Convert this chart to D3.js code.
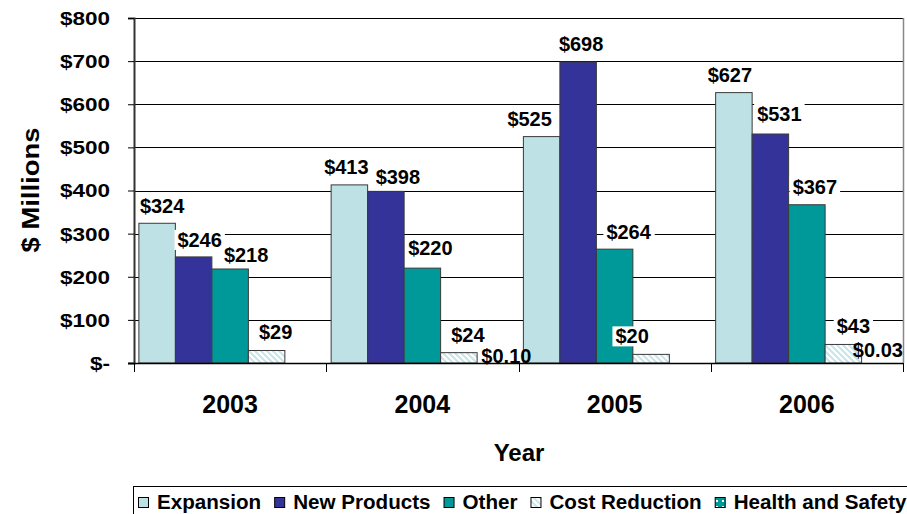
<html>
<script src='https://d3js.org/d3.v7.min.js'></script>
<style>
body { margin: 0; background: #fff; }
text { font-family: "Liberation Sans", Arial, sans-serif; font-weight: bold; fill: #000; }
</style>
<body onload='init()'>
<svg width=907 height=514></svg>
<script>
// chart values
const years = ["2003", "2004", "2005", "2006"];
const seriesNames = ["Expansion", "New Products", "Other", "Cost Reduction", "Health and Safety"];
const expansion = [324, 413, 525, 627];
const newProducts = [246, 398, 698, 531];
const other = [218, 220, 264, 367];
const costReduction = [29, 24, 20, 43];
const healthSafety = [0, 0.10, 0, 0.03];
const yTicks = [0, 100, 200, 300, 400, 500, 600, 700, 800];

// label nudges [dx, gap above bar], per series, per year
const labelNudge = [
    [[5, 10], [-3, 11], [-12, 11], [-4, 11]],
    [[6, 10], [12, 7], [3, 11], [9, 13]],
    [[16, 7], [8, 13], [14, 10], [8, 11]],
    [[9, 11], [9, 11], [-19, 11], [10, 11]],
    [[0, 0], [11, 0], [0, 0], [-2, 6]]
];

function init() {
    const svg = d3.select("svg");
    const series = [expansion, newProducts, other, costReduction, healthSafety];
    const fills = ["#bde1e4", "#333399", "#009999", "url(#hatch)", "url(#dots)"];

    const defs = svg.append("defs");
    const hatch = defs.append("pattern").attr("id", "hatch")
        .attr("patternUnits", "userSpaceOnUse").attr("width", 6).attr("height", 6);
    hatch.append("rect").attr("width", 6).attr("height", 6).attr("fill", "#fff");
    hatch.append("path").attr("d", "M-1,-1 L7,7 M-4,2 L2,8 M4,-2 L8,2")
        .attr("stroke", "#c6e6ea").attr("stroke-width", 2);
    const dots = defs.append("pattern").attr("id", "dots")
        .attr("patternUnits", "userSpaceOnUse").attr("width", 6).attr("height", 6);
    dots.append("rect").attr("width", 6).attr("height", 6).attr("fill", "#009999");
    dots.append("rect").attr("x", 2).attr("y", 2).attr("width", 2).attr("height", 2).attr("fill", "#fff");

    const x0 = d3.scaleBand().domain(years).range([134, 903]);
    const x1 = d3.scaleBand().domain(seriesNames).range([0, x0.bandwidth()])
        .paddingInner(0).paddingOuter(0.134);
    const y = d3.scaleLinear().domain([0, 800]).range([363, 18]);

    // gridlines
    svg.append("g").selectAll("line")
        .data(yTicks.filter(d => d > 0))
        .enter().append("line")
        .attr("x1", 134).attr("x2", 903)
        .attr("y1", d => Math.round(y(d)) + 0.5).attr("y2", d => Math.round(y(d)) + 0.5)
        .attr("stroke", "#000");
    // right border
    svg.append("line").attr("x1", 903.5).attr("x2", 903.5).attr("y1", 18).attr("y2", 363)
        .attr("stroke", "#888").attr("stroke-width", 1.5);

    // bars
    series.forEach((vals, si) => {
        svg.append("g").selectAll("rect")
            .data(vals)
            .enter().append("rect")
            .attr("x", (d, i) => x0(years[i]) + x1(seriesNames[si]))
            .attr("y", d => y(d))
            .attr("width", x1.bandwidth())
            .attr("height", d => y(0) - y(d))
            .attr("fill", fills[si])
            .attr("stroke", d => d > 0.5 ? "#3a3a3a" : "none")
            .attr("stroke-width", 1);
    });

    // y axis
    const yAxis = d3.axisLeft(y).tickValues(yTicks).tickSize(6).tickPadding(18)
        .tickFormat(d => d === 0 ? "$-" : "$" + d);
    const ya = svg.append("g").attr("transform", "translate(134,0)").call(yAxis);
    ya.select(".domain").attr("stroke", "#333").attr("stroke-width", 2);
    ya.selectAll(".tick line").attr("stroke", "#000");
    ya.selectAll(".tick text").attr("font-size", 18).attr("font-family", null)
        .attr("dy", "0.36em")
        .each(function () {
            const w = this.getComputedTextLength();
            d3.select(this).attr("textLength", w * 1.25).attr("lengthAdjust", "spacingAndGlyphs");
        });

    // x axis
    svg.append("line").attr("x1", 128).attr("x2", 903)
        .attr("y1", 363.5).attr("y2", 363.5).attr("stroke", "#000").attr("stroke-width", 1.5);
    const bounds = years.map(d => x0(d)).concat([x0.range()[1]]);
    svg.append("g").selectAll("line").data(bounds).enter().append("line")
        .attr("x1", d => Math.round(d) + 0.5).attr("x2", d => Math.round(d) + 0.5)
        .attr("y1", 363).attr("y2", 372).attr("stroke", "#000");
    svg.append("g").selectAll("text").data(years).enter().append("text")
        .attr("x", d => x0(d) + x0.bandwidth() / 2)
        .attr("y", 413)
        .attr("text-anchor", "middle")
        .attr("font-size", 25)
        .text(d => d);

    // axis titles
    svg.append("text").attr("x", 519).attr("y", 461).attr("text-anchor", "middle")
        .attr("font-size", 24).text("Year");
    svg.append("text").attr("transform", "translate(39,190) rotate(-90)")
        .attr("text-anchor", "middle").attr("font-size", 24)
        .attr("textLength", 125).attr("lengthAdjust", "spacingAndGlyphs")
        .text("$ Millions");

    // data labels
    const fmt = v => v >= 1 ? "$" + d3.format(".0f")(v) : "$" + v.toFixed(2);
    const lg = svg.append("g");
    series.forEach((vals, si) => {
        vals.forEach((v, i) => {
            if (v === 0) return;
            const cx = x0(years[i]) + x1(seriesNames[si]) + x1.bandwidth() / 2 + labelNudge[si][i][0];
            const by = y(v) - labelNudge[si][i][1];
            const g = lg.append("g");
            const r = g.append("rect").attr("fill", "#fff");
            const t = g.append("text").attr("x", cx).attr("y", by)
                .attr("text-anchor", "middle").attr("font-size", 20).text(fmt(v));
            const b = t.node().getBBox();
            if (v >= 1) {
                r.attr("x", b.x - 3).attr("y", b.y + 1).attr("width", b.width + 6).attr("height", b.height - 2);
            }
        });
    });

    // legend
    svg.append("rect").attr("x", 133.5).attr("y", 486.5).attr("width", 800).attr("height", 40)
        .attr("fill", "#fff").attr("stroke", "#000");
    let lx = 138;
    seriesNames.forEach((name, si) => {
        svg.append("rect").attr("x", lx + 0.5).attr("y", 497.5).attr("width", 10).attr("height", 10)
            .attr("fill", fills[si]).attr("stroke", "#000");
        const t = svg.append("text").attr("x", lx + 19).attr("y", 509)
            .attr("font-size", 20).text(name);
        const w = t.node().getComputedTextLength() * 1.03;
        t.attr("textLength", w).attr("lengthAdjust", "spacingAndGlyphs");
        lx += 19 + w + 13;
    });
}
</script>
</body>
</html>
